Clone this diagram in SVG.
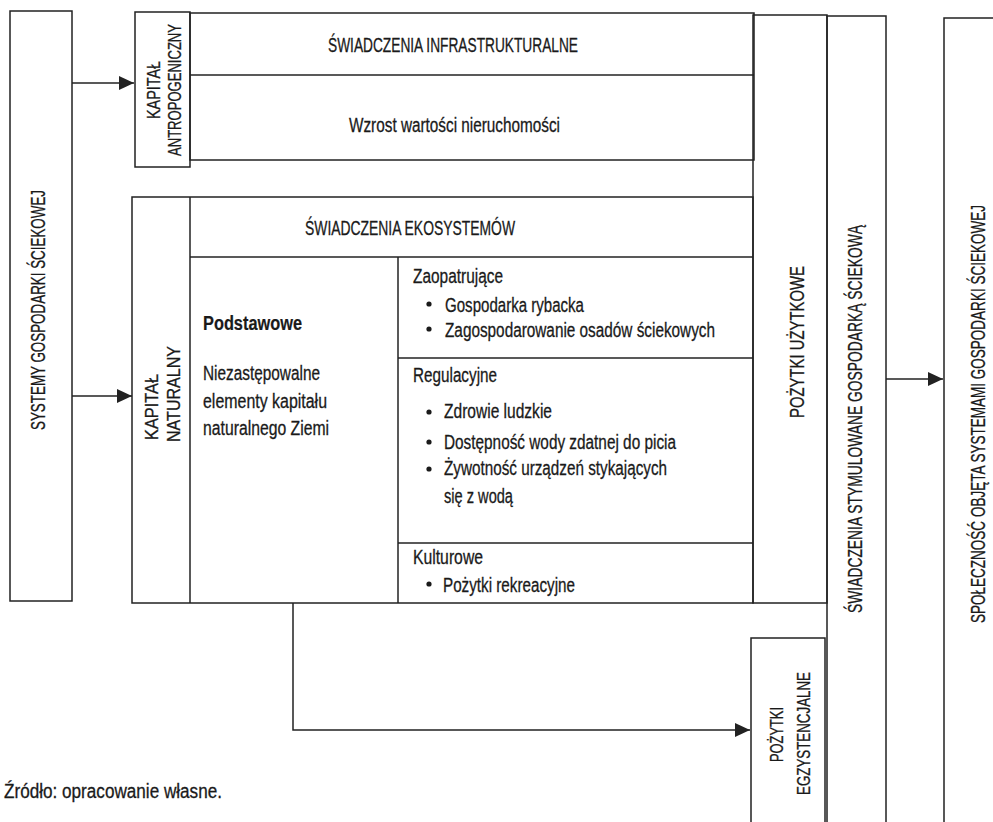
<svg xmlns="http://www.w3.org/2000/svg" width="993" height="822" viewBox="0 0 993 822">
<style>
.box{fill:none;stroke:#222;stroke-width:1.5}
.ln{stroke:#222;stroke-width:1.5;fill:none}
.t{font-family:"Liberation Sans",Arial,sans-serif;font-size:20px;fill:#1a1a1a;stroke:#1a1a1a;stroke-width:0.3}
.s{font-size:18px}
.b{font-weight:bold;stroke-width:0.2}
.v{font-family:"Liberation Sans",Arial,sans-serif;font-size:20px;fill:#1a1a1a;stroke:#1a1a1a;stroke-width:0.3}
.bul{fill:#1a1a1a}
</style>
<defs>
<marker id="ah" markerUnits="userSpaceOnUse" markerWidth="16" markerHeight="16" viewBox="0 0 16 16" refX="15" refY="8" orient="auto">
<path d="M0,1 L15,8 L0,15 Z" fill="#222"/>
</marker>
</defs>
<rect width="993" height="822" fill="#fff"/>

<g id="systemy">
<rect class="box" x="10" y="11" width="62" height="590"/>
<text class="v" transform="translate(45,430) rotate(-90)" textLength="240" lengthAdjust="spacingAndGlyphs">SYSTEMY GOSPODARKI ŚCIEKOWEJ</text>
</g>

<g id="kapital-antropogeniczny">
<rect class="box" x="135" y="12" width="55" height="155"/>
<text class="t s" transform="translate(160,119) rotate(-90)" textLength="58" lengthAdjust="spacingAndGlyphs">KAPITAŁ</text>
<text class="t s" transform="translate(181,156) rotate(-90)" textLength="132" lengthAdjust="spacingAndGlyphs">ANTROPOGENICZNY</text>
</g>

<g id="swiadczenia-infrastrukturalne">
<rect class="box" x="190" y="13" width="564" height="147"/>
<line class="ln" x1="190" y1="75" x2="754" y2="75"/>
<text class="t" x="328" y="52" textLength="250" lengthAdjust="spacingAndGlyphs">ŚWIADCZENIA INFRASTRUKTURALNE</text>
<text class="t" x="349" y="132" textLength="211" lengthAdjust="spacingAndGlyphs">Wzrost wartości nieruchomości</text>
</g>

<g id="kapital-naturalny">
<rect class="box" x="132" y="197" width="621" height="406"/>
<line class="ln" x1="190" y1="197" x2="190" y2="603"/>
<text class="t s" transform="translate(158,440) rotate(-90)" textLength="66" lengthAdjust="spacingAndGlyphs">KAPITAŁ</text>
<text class="t s" transform="translate(180,442) rotate(-90)" textLength="96" lengthAdjust="spacingAndGlyphs">NATURALNY</text>
</g>

<g id="swiadczenia-ekosystemow">
<line class="ln" x1="190" y1="257" x2="753" y2="257"/>
<text class="t" x="305" y="235" textLength="210" lengthAdjust="spacingAndGlyphs">ŚWIADCZENIA EKOSYSTEMÓW</text>
</g>

<g id="podstawowe">
<line class="ln" x1="398" y1="257" x2="398" y2="603"/>
<text class="t b" x="203" y="330" textLength="99" lengthAdjust="spacingAndGlyphs">Podstawowe</text>
<text class="t" x="203" y="380" textLength="117" lengthAdjust="spacingAndGlyphs">Niezastępowalne</text>
<text class="t" x="203" y="408" textLength="124" lengthAdjust="spacingAndGlyphs">elementy kapitału</text>
<text class="t" x="203" y="435" textLength="126" lengthAdjust="spacingAndGlyphs">naturalnego Ziemi</text>
</g>

<g id="zaopatrujace">
<text class="t" x="413" y="283" textLength="90" lengthAdjust="spacingAndGlyphs">Zaopatrujące</text>
<circle class="bul" cx="429" cy="304" r="2.6"/>
<text class="t" x="445" y="312" textLength="139" lengthAdjust="spacingAndGlyphs">Gospodarka rybacka</text>
<circle class="bul" cx="429" cy="329" r="2.6"/>
<text class="t" x="445" y="337" textLength="270" lengthAdjust="spacingAndGlyphs">Zagospodarowanie osadów ściekowych</text>
</g>

<g id="regulacyjne">
<line class="ln" x1="398" y1="358" x2="753" y2="358"/>
<text class="t" x="413" y="382" textLength="84" lengthAdjust="spacingAndGlyphs">Regulacyjne</text>
<circle class="bul" cx="429" cy="412" r="2.6"/>
<text class="t" x="444" y="418" textLength="108" lengthAdjust="spacingAndGlyphs">Zdrowie ludzkie</text>
<circle class="bul" cx="429" cy="442" r="2.6"/>
<text class="t" x="444" y="449" textLength="232" lengthAdjust="spacingAndGlyphs">Dostępność wody zdatnej do picia</text>
<circle class="bul" cx="429" cy="469" r="2.6"/>
<text class="t" x="444" y="475" textLength="223" lengthAdjust="spacingAndGlyphs">Żywotność urządzeń stykających</text>
<text class="t" x="444" y="503" textLength="69" lengthAdjust="spacingAndGlyphs">się z wodą</text>
</g>

<g id="kulturowe">
<line class="ln" x1="398" y1="543" x2="753" y2="543"/>
<text class="t" x="413" y="564" textLength="70" lengthAdjust="spacingAndGlyphs">Kulturowe</text>
<circle class="bul" cx="429" cy="584" r="2.6"/>
<text class="t" x="443" y="592" textLength="132" lengthAdjust="spacingAndGlyphs">Pożytki rekreacyjne</text>
</g>

<g id="pozytki-uzytkowe">
<rect class="box" x="753" y="15" width="74" height="588"/>
<text class="v" transform="translate(804,418) rotate(-90)" textLength="152" lengthAdjust="spacingAndGlyphs">POŻYTKI  UŻYTKOWE</text>
</g>

<g id="pozytki-egzystencjalne">
<rect class="box" x="751" y="638" width="74" height="200"/>
<text class="t s" transform="translate(783,762) rotate(-90)" textLength="55" lengthAdjust="spacingAndGlyphs">POŻYTKI</text>
<text class="t s" transform="translate(810,795) rotate(-90)" textLength="123" lengthAdjust="spacingAndGlyphs">EGZYSTENCJALNE</text>
</g>

<g id="swiadczenia-stymulowane">
<rect class="box" x="827" y="16" width="59" height="822"/>
<text class="v" transform="translate(862,613) rotate(-90)" textLength="388" lengthAdjust="spacingAndGlyphs">ŚWIADCZENIA STYMULOWANE GOSPODARKĄ ŚCIEKOWĄ</text>
</g>

<g id="spolecznosc">
<rect class="box" x="944" y="18" width="60" height="820"/>
<text class="v" transform="translate(985,623) rotate(-90)" textLength="418" lengthAdjust="spacingAndGlyphs">SPOŁECZNOŚĆ OBJĘTA SYSTEMAMI GOSPODARKI ŚCIEKOWEJ</text>
</g>

<g id="connectors">
<line class="ln" x1="72" y1="83" x2="134" y2="83" marker-end="url(#ah)"/>
<line class="ln" x1="72" y1="396" x2="132" y2="396" marker-end="url(#ah)"/>
<polyline class="ln" points="293,603 293,730 750,730" marker-end="url(#ah)"/>
<line class="ln" x1="886" y1="379" x2="943" y2="379" marker-end="url(#ah)"/>
</g>

<text class="t" x="4" y="798" textLength="218" lengthAdjust="spacingAndGlyphs">Źródło: opracowanie własne.</text>
</svg>
